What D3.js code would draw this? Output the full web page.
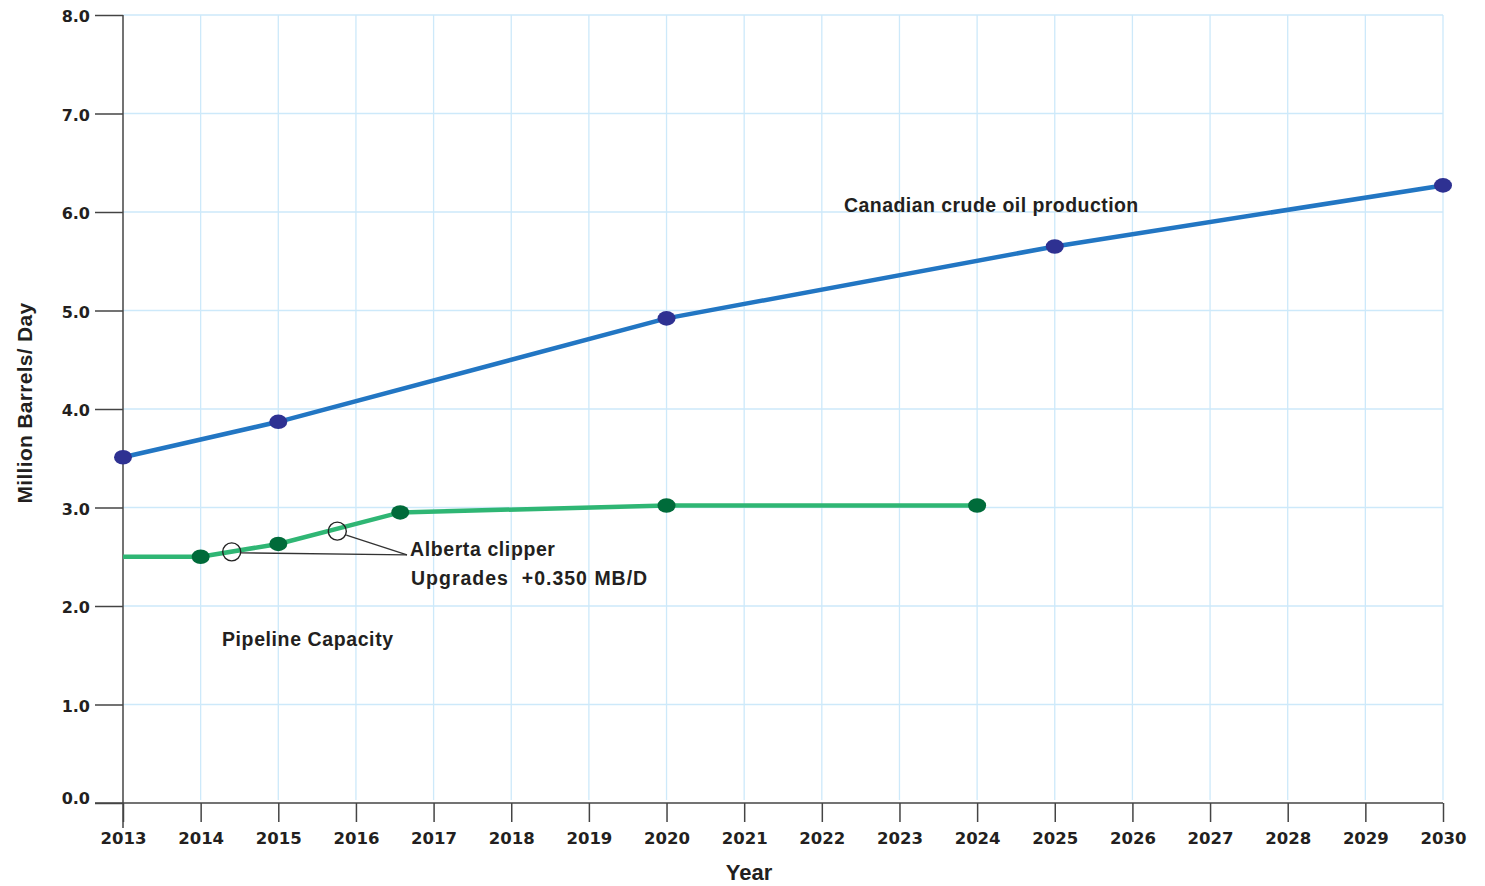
<!DOCTYPE html>
<html>
<head>
<meta charset="utf-8">
<script src="https://cdn.jsdelivr.net/npm/d3@7"></script>
<style>
  body { margin: 0; background: #fff; }
  svg { display: block; }
  .tick text { font-family: "DejaVu Sans", sans-serif; font-weight: bold; fill: #231f20; }
  .lbl { font-family: "Liberation Sans", Arial, sans-serif; font-weight: bold; fill: #231f20; }
</style>
</head>
<body>
<svg id="chart"></svg>
<script>
// data
const years = d3.range(2013, 2031);
const yTicks = [0, 1, 2, 3, 4, 5, 6, 7, 8];

const productionYears = [2013, 2015, 2020, 2025, 2030];
const productionValues = [3.51, 3.87, 4.92, 5.65, 6.27];

const pipelineYears = [2013, 2014, 2015, 2016.57, 2020, 2024];
const pipelineValues = [2.5, 2.5, 2.63, 2.95, 3.02, 3.02];
const pipelineMarked = [false, true, true, true, true, true];

const upgradeYears = [2014.4, 2015.76];
const upgradeValues = [2.55, 2.76];

const production = productionYears.map((y, i) => ({ year: y, value: productionValues[i] }));
const pipeline = pipelineYears.map((y, i) => ({ year: y, value: pipelineValues[i], mark: pipelineMarked[i] }));
const upgrades = upgradeYears.map((y, i) => ({ year: y, value: upgradeValues[i] }));

const margin = { top: 15, right: 42, bottom: 83, left: 123 };
const W = 1485, H = 886;
const width = W - margin.left - margin.right;
const height = H - margin.top - margin.bottom;

const svg = d3.select('#chart').attr('width', W).attr('height', H);
const chart = svg.append('g').attr('transform', `translate(${margin.left},${margin.top})`);

const x = d3.scaleLinear().domain([2013, 2030]).range([0, width]);
const y = d3.scaleLinear().domain([0, 8]).range([height, 0]);

// grid
chart.append('g').selectAll('line')
  .data(years.slice(1))
  .join('line')
  .attr('x1', d => x(d)).attr('x2', d => x(d))
  .attr('y1', 0).attr('y2', height - 3)
  .attr('stroke', '#cde9fa').attr('stroke-width', 1.3);

chart.append('g').selectAll('line')
  .data(yTicks.slice(1))
  .join('line')
  .attr('x1', 0).attr('x2', width)
  .attr('y1', d => y(d)).attr('y2', d => y(d))
  .attr('stroke', '#cde9fa').attr('stroke-width', 1.3);

// axes
const xAxis = d3.axisBottom(x).tickValues(years).tickFormat(d3.format('d')).tickSize(19).tickSizeOuter(0).tickPadding(6);
const yAxis = d3.axisLeft(y).tickValues(yTicks).tickFormat(d3.format('.1f')).tickSize(28).tickSizeOuter(0).tickPadding(5);

const xAxisG = chart.append('g').attr('transform', `translate(0,${height})`).call(xAxis);
xAxisG.select('.domain').remove();
xAxisG.append('line').attr('x1', -28).attr('x2', width).attr('stroke', '#444').attr('stroke-width', 1.5);
xAxisG.selectAll('.tick line').attr('stroke', '#444').attr('stroke-width', 1.5);
xAxisG.selectAll('.tick text').attr('font-size', 16.5).attr('dy', '0.95em');

const yAxisG = chart.append('g').call(yAxis);
yAxisG.select('.domain').remove();
yAxisG.append('line').attr('y1', 0).attr('y2', height + 25).attr('stroke', '#444').attr('stroke-width', 1.5);
yAxisG.selectAll('.tick line').attr('stroke', '#444').attr('stroke-width', 1.5);
yAxisG.selectAll('.tick text').attr('font-size', 16)
  .attr('dy', d => d === 0 ? '0.02em' : '0.42em');

const line = d3.line().x(d => x(d.year)).y(d => y(d.value));

// production
chart.append('path').datum(production)
  .attr('d', line).attr('fill', 'none')
  .attr('stroke', '#2276c3').attr('stroke-width', 4.5);
chart.append('g').selectAll('ellipse')
  .data(production).join('ellipse')
  .attr('cx', d => x(d.year)).attr('cy', d => y(d.value))
  .attr('rx', 9).attr('ry', 7.3)
  .attr('fill', '#2e3192');

// pipeline
chart.append('path').datum(pipeline)
  .attr('d', line).attr('fill', 'none')
  .attr('stroke', '#2fb674').attr('stroke-width', 4.5);
chart.append('g').selectAll('ellipse')
  .data(pipeline.filter(d => d.mark)).join('ellipse')
  .attr('cx', d => x(d.year)).attr('cy', d => y(d.value))
  .attr('rx', 9).attr('ry', 7.3)
  .attr('fill', '#006b3a');

// upgrade callouts
chart.append('g').selectAll('line')
  .data(upgrades).join('line')
  .attr('x1', d => x(d.year) + 9).attr('y1', (d, i) => y(d.value) + (i === 0 ? 1 : 4))
  .attr('x2', 284).attr('y2', y(2.52))
  .attr('stroke', '#333').attr('stroke-width', 1.3);
chart.append('g').selectAll('circle')
  .data(upgrades).join('circle')
  .attr('cx', d => x(d.year)).attr('cy', d => y(d.value))
  .attr('r', 9).attr('fill', 'none')
  .attr('stroke', '#222').attr('stroke-width', 1.4);

// labels
svg.append('text').attr('class', 'lbl').attr('x', 844).attr('y', 212)
  .attr('font-size', 19.5).attr('letter-spacing', 0.45).text('Canadian crude oil production');
svg.append('text').attr('class', 'lbl').attr('x', 410).attr('y', 556)
  .attr('font-size', 19.5).attr('letter-spacing', 0.6).text('Alberta clipper');
svg.append('text').attr('class', 'lbl').attr('x', 411).attr('y', 585)
  .attr('font-size', 19.5).attr('letter-spacing', 1).attr('xml:space', 'preserve').text('Upgrades  +0.350 MB/D');
svg.append('text').attr('class', 'lbl').attr('x', 222).attr('y', 646)
  .attr('font-size', 19.5).attr('letter-spacing', 0.6).text('Pipeline Capacity');

svg.append('text').attr('class', 'lbl')
  .attr('x', 749).attr('y', 880).attr('text-anchor', 'middle')
  .attr('font-size', 22).text('Year');
svg.append('text').attr('class', 'lbl')
  .attr('transform', 'translate(32,403) rotate(-90)')
  .attr('text-anchor', 'middle')
  .attr('font-size', 21).attr('letter-spacing', 0.3).text('Million Barrels/ Day');
</script>
</body>
</html>
